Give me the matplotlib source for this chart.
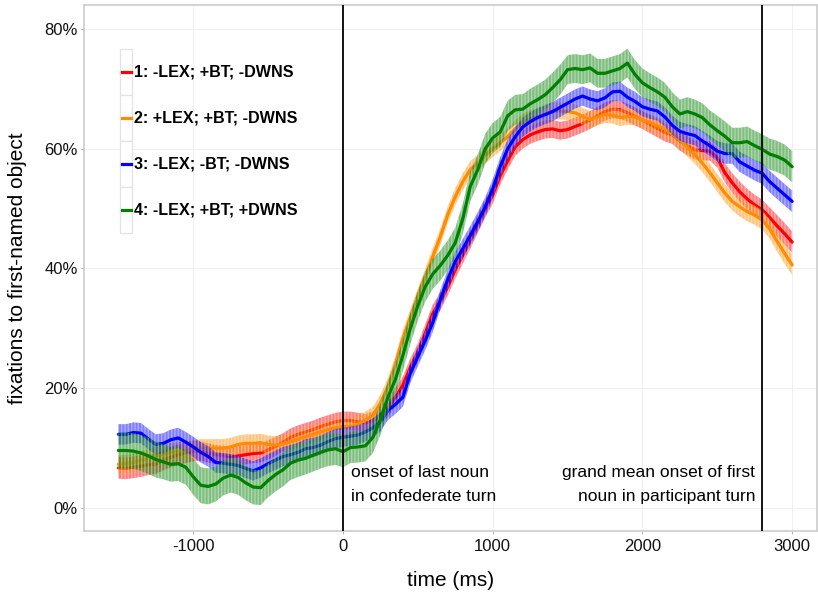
import numpy as np
import matplotlib
matplotlib.use("Agg")
import matplotlib.pyplot as plt
from matplotlib.lines import Line2D
from matplotlib.patches import Rectangle
from matplotlib.colors import to_rgba

plt.rcParams['font.family'] = ['Liberation Sans', 'DejaVu Sans']
plt.rcParams['hatch.linewidth'] = 1.0
plt.rcParams['axes.unicode_minus'] = False

# time relative to onset of last noun in confederate turn (ms)
time_ms = list(range(-1500, 3001, 50))

labels = ["1: -LEX; +BT; -DWNS", "2: +LEX; +BT; -DWNS",
          "3: -LEX; -BT; -DWNS", "4: -LEX; +BT; +DWNS"]
colors = ["#FF0000", "#FF8C00", "#0000FF", "#008000"]

# mean fixation proportion (%) per condition
mean_1 = [6.7, 6.6, 6.8, 7.0, 7.2, 7.4, 8.0, 8.5, 8.9, 9.2,
          9.5, 9.5, 9.2, 8.9, 8.8, 8.6, 8.7, 8.9, 9.1, 9.2,
          9.7, 10.3, 11.0, 11.8, 12.3, 12.7, 13.1, 13.6, 14.0, 14.4,
          14.6, 14.6, 14.4, 14.2, 14.6, 15.5, 16.8, 18.5, 20.5, 23.5,
          26.0, 29.2, 32.5, 34.5, 37.0, 39.8, 42.3, 44.8, 47.4, 50.0,
          52.3, 55.5, 58.0, 60.3, 61.5, 62.3, 62.8, 63.2, 63.3, 63.0,
          63.2, 63.7, 64.2, 64.8, 65.5, 66.2, 66.6, 66.5, 66.0, 65.4,
          64.8, 64.1, 63.4, 62.7, 62.3, 61.3, 60.5, 59.8, 59.7, 59.6,
          58.5, 56.0, 54.3, 52.8, 51.6, 50.6, 49.8, 48.5, 47.1, 45.8,
          44.4]
mean_2 = [7.3, 7.4, 7.6, 8.0, 8.3, 8.7, 9.0, 9.3, 9.5, 9.6,
          9.8, 10.0, 10.0, 10.0, 10.0, 10.2, 10.6, 10.8, 10.8, 10.9,
          10.6, 10.5, 10.7, 11.1, 11.5, 11.9, 12.3, 12.7, 13.1, 13.4,
          13.6, 13.6, 14.0, 14.7, 15.5, 17.5, 20.3, 24.0, 28.3, 31.8,
          35.3, 38.6, 42.0, 45.3, 49.0, 52.0, 54.5, 56.5, 57.6, 58.9,
          60.0, 61.0, 62.0, 63.3, 64.4, 65.0, 65.3, 65.8, 66.3, 66.3,
          66.2, 66.0, 65.4, 64.9, 65.3, 65.7, 65.6, 65.2, 65.4, 65.3,
          64.8, 64.4, 63.8, 63.3, 62.5, 61.5, 60.2, 59.0, 57.6, 56.0,
          54.3, 52.6, 51.2, 50.3, 49.5, 48.9, 48.1, 46.6, 44.5, 42.5,
          40.6]
mean_3 = [12.3, 12.3, 12.6, 12.5, 11.5, 10.6, 10.8, 11.4, 11.7, 11.0,
          10.2, 9.3, 8.6, 7.6, 7.5, 7.3, 7.1, 6.6, 6.2, 6.7,
          7.4, 8.0, 8.6, 8.9, 9.3, 9.9, 10.1, 10.5, 11.1, 11.6,
          11.8, 12.0, 12.2, 12.7, 13.4, 14.4, 16.3, 17.3, 18.5, 22.5,
          25.3, 28.0, 31.0, 34.8, 38.2, 41.2, 43.3, 45.5, 47.8, 50.3,
          53.3, 57.0, 60.0, 62.0, 63.6, 64.5, 65.2, 65.7, 66.2, 66.9,
          67.6, 68.3, 68.8, 68.3, 68.0, 68.5, 69.5, 69.6, 68.6, 67.9,
          67.0, 66.6, 66.3, 65.3, 63.9, 62.9, 62.5, 62.2, 61.3, 60.5,
          59.6, 59.2, 59.2, 57.8, 57.1, 56.4, 55.9, 54.5, 53.4, 52.3,
          51.2]
mean_4 = [9.6, 9.6, 9.5, 9.2, 8.7, 8.1, 7.7, 7.3, 7.4, 6.8,
          5.2, 3.8, 3.6, 4.0, 5.0, 5.5, 5.1, 4.2, 3.5, 3.4,
          4.6, 5.6, 6.4, 7.5, 8.0, 8.3, 8.8, 9.3, 9.7, 9.9,
          9.4, 10.1, 10.2, 10.4, 11.8, 14.8, 18.5, 21.5, 25.5, 30.0,
          33.8, 37.0, 39.1, 40.5, 42.2, 44.3, 48.3, 53.7, 56.5, 60.0,
          61.8, 62.8, 65.5, 66.5, 66.6, 67.5, 68.2, 69.0, 70.2, 71.5,
          73.2, 73.4, 73.2, 73.5, 72.6, 72.6, 73.0, 73.4, 74.3, 72.4,
          71.0, 70.2, 69.5, 68.6, 67.0, 65.8, 66.2, 65.8, 65.2, 64.0,
          63.0, 62.1, 61.0, 61.0, 61.2, 60.5, 59.9, 59.1, 58.7, 58.1,
          57.0]

# standard error (%) per condition
se_1 = [1.8, 1.8, 1.8, 1.8, 1.7, 1.7, 1.7, 1.7, 1.7, 1.7,
        1.7, 1.6, 1.6, 1.6, 1.6, 1.6, 1.6, 1.6, 1.6, 1.6,
        1.6, 1.6, 1.5, 1.5, 1.5, 1.5, 1.5, 1.5, 1.5, 1.5,
        1.5, 1.5, 1.5, 1.5, 1.5, 1.5, 1.5, 1.5, 1.5, 1.5,
        1.5, 1.5, 1.5, 1.5, 1.5, 1.5, 1.5, 1.5, 1.5, 1.5,
        1.5, 1.5, 1.5, 1.5, 1.5, 1.5, 1.5, 1.5, 1.5, 1.5,
        1.5, 1.5, 1.5, 1.5, 1.5, 1.5, 1.5, 1.5, 1.5, 1.5,
        1.5, 1.5, 1.5, 1.5, 1.5, 1.6, 1.6, 1.6, 1.6, 1.6,
        1.6, 1.6, 1.6, 1.7, 1.7, 1.7, 1.7, 1.7, 1.8, 1.8,
        1.8]
se_2 = [1.5, 1.5, 1.5, 1.5, 1.5, 1.5, 1.5, 1.5, 1.5, 1.5,
        1.5, 1.5, 1.5, 1.5, 1.5, 1.5, 1.5, 1.5, 1.5, 1.5,
        1.5, 1.5, 1.4, 1.4, 1.4, 1.4, 1.4, 1.4, 1.4, 1.4,
        1.4, 1.4, 1.4, 1.4, 1.4, 1.4, 1.4, 1.4, 1.4, 1.4,
        1.4, 1.4, 1.4, 1.4, 1.4, 1.4, 1.4, 1.4, 1.4, 1.4,
        1.4, 1.4, 1.4, 1.4, 1.4, 1.4, 1.4, 1.4, 1.4, 1.4,
        1.4, 1.4, 1.4, 1.4, 1.4, 1.4, 1.4, 1.4, 1.4, 1.4,
        1.4, 1.4, 1.4, 1.4, 1.4, 1.5, 1.5, 1.5, 1.5, 1.5,
        1.5, 1.5, 1.5, 1.6, 1.6, 1.6, 1.6, 1.6, 1.7, 1.7,
        1.7]
se_3 = [1.7, 1.7, 1.7, 1.7, 1.7, 1.7, 1.7, 1.7, 1.7, 1.7,
        1.7, 1.7, 1.7, 1.7, 1.7, 1.7, 1.6, 1.6, 1.6, 1.6,
        1.6, 1.6, 1.6, 1.6, 1.6, 1.6, 1.6, 1.6, 1.6, 1.6,
        1.6, 1.6, 1.6, 1.6, 1.6, 1.6, 1.6, 1.6, 1.6, 1.6,
        1.6, 1.6, 1.6, 1.6, 1.6, 1.6, 1.6, 1.6, 1.6, 1.6,
        1.6, 1.6, 1.6, 1.6, 1.6, 1.6, 1.6, 1.6, 1.6, 1.6,
        1.6, 1.6, 1.6, 1.6, 1.6, 1.6, 1.6, 1.6, 1.6, 1.6,
        1.6, 1.6, 1.6, 1.6, 1.6, 1.6, 1.6, 1.6, 1.7, 1.7,
        1.7, 1.7, 1.7, 1.7, 1.7, 1.7, 1.8, 1.8, 1.8, 1.8,
        1.8]
se_4 = [3.0, 3.0, 3.0, 3.0, 3.0, 3.0, 2.9, 2.9, 2.9, 2.9,
        3.0, 3.0, 3.0, 2.9, 2.9, 2.9, 2.9, 2.9, 2.9, 2.9,
        2.8, 2.8, 2.8, 2.8, 2.8, 2.7, 2.7, 2.7, 2.7, 2.7,
        2.6, 2.6, 2.6, 2.6, 2.6, 2.6, 2.6, 2.6, 2.6, 2.6,
        2.5, 2.5, 2.5, 2.5, 2.5, 2.5, 2.5, 2.5, 2.5, 2.5,
        2.5, 2.5, 2.5, 2.5, 2.5, 2.5, 2.5, 2.5, 2.5, 2.5,
        2.4, 2.4, 2.4, 2.4, 2.4, 2.4, 2.4, 2.4, 2.4, 2.4,
        2.4, 2.4, 2.4, 2.4, 2.4, 2.4, 2.4, 2.4, 2.4, 2.4,
        2.5, 2.5, 2.5, 2.5, 2.5, 2.5, 2.5, 2.6, 2.6, 2.6,
        2.6]

means = [mean_1, mean_2, mean_3, mean_4]
ses = [se_1, se_2, se_3, se_4]

y_ticks = [0, 20, 40, 60, 80]
x_ticks = [-1000, 0, 1000, 2000, 3000]
marker_times = [0, 2800]

W, H = 818, 595
fig = plt.figure(figsize=(W / 100, H / 100), dpi=100)
ax = fig.add_axes([84 / W, 1 - 531 / H, 733 / W, 526 / H])

t = np.array(time_ms)
for mean, se, col in zip(means, ses, colors):
    m = np.array(mean)
    s = np.array(se)
    ax.fill_between(t, m - s, m + s, facecolor=to_rgba(col, 0.5),
                    edgecolor=(1, 1, 1, 0.35), hatch='|||||',
                    linewidth=0, zorder=2)
    ax.plot(t, m, color=col, lw=2.3, solid_capstyle='round', zorder=2)

for xv in marker_times:
    ax.axvline(xv, color='black', lw=1.3, zorder=3)

ax.set_xlim(-1730, 3166)
ax.set_ylim(-3.84, 84.0)
ax.set_xticks(x_ticks)
ax.set_xticklabels([str(v) for v in x_ticks])
ax.set_yticks(y_ticks)
ax.set_yticklabels([f"{v}%" for v in y_ticks])
ax.grid(True, color='#F0F0F0', lw=0.7, zorder=0)
ax.set_axisbelow(True)
for sp in ax.spines.values():
    sp.set_color('#CCCCCC')
    sp.set_linewidth(1.2)
ax.tick_params(axis='both', length=2.5, width=0.8, color='#B3B3B3',
               labelsize=12, labelcolor='#111111')
ax.tick_params(axis='x', pad=3)
ax.tick_params(axis='y', pad=2)

ax.set_xlabel('time (ms)', fontsize=15, va='center')
ax.xaxis.set_label_coords(0.5, -(580 - 531) / 526)
ax.set_ylabel('fixations to first-named object', fontsize=15, va='center')
ax.yaxis.set_label_coords((18 - 84) / 733, 0.5)

ann_size = 12.5
ax.text(51, 5.93, 'onset of last noun', fontsize=ann_size, ha='left', va='center')
ax.text(51, 1.89, 'in confederate turn', fontsize=ann_size, ha='left', va='center')
ax.text(2752, 5.93, 'grand mean onset of first', fontsize=ann_size, ha='right', va='center')
ax.text(2752, 1.89, 'noun in participant turn', fontsize=ann_size, ha='right', va='center')

# legend keys with outlined boxes
key_top, key_h, key_x, key_w = 49.3, 46.0, 120.0, 12.0
for i, (lab, col) in enumerate(zip(labels, colors)):
    y0 = key_top + key_h * i
    fig.add_artist(Rectangle((key_x / W, 1 - (y0 + key_h) / H), key_w / W, key_h / H,
                             transform=fig.transFigure, facecolor='white',
                             edgecolor='#E3E3E3', lw=0.9, zorder=5))
    yc = 1 - (y0 + key_h / 2) / H
    fig.add_artist(Line2D([(key_x + 1.5) / W, (key_x + key_w - 1.5) / W], [yc, yc],
                          transform=fig.transFigure, color=col, lw=2.3, zorder=6))
    fig.text((key_x + key_w + 1.5) / W, yc, lab, fontsize=11.6, fontweight='bold',
             ha='left', va='center', zorder=6)

fig.savefig('out.png', dpi=100, facecolor='white')
